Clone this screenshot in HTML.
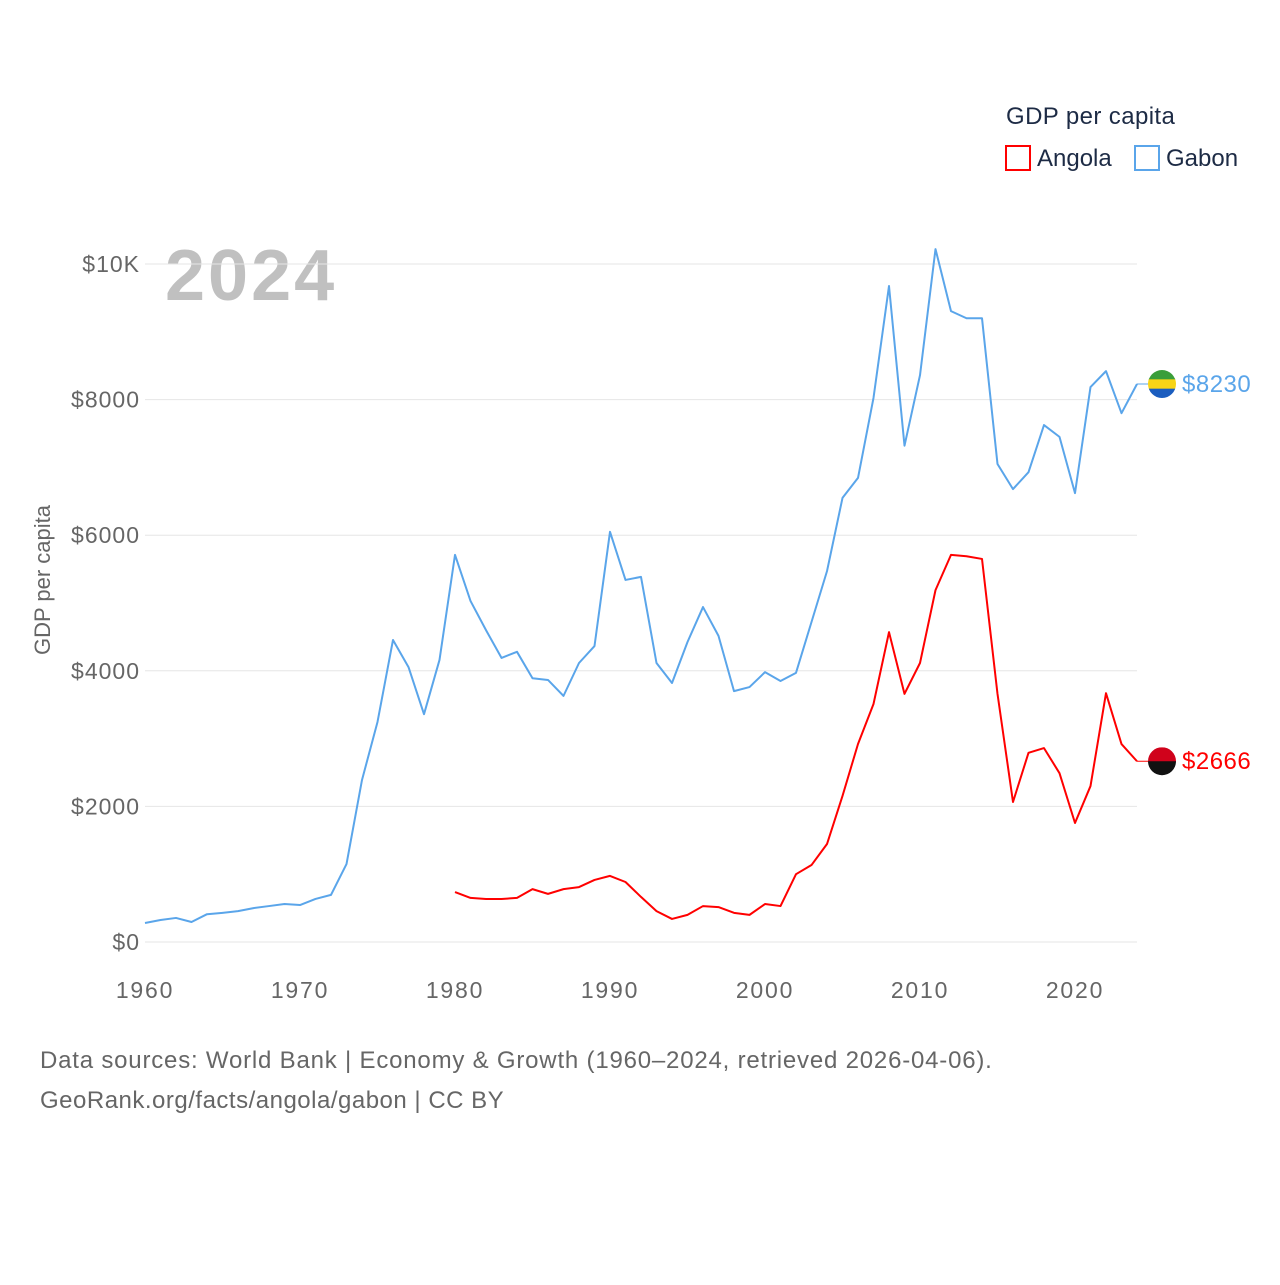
<!DOCTYPE html>
<html><head><meta charset="utf-8"><style>
body{margin:0;background:#fff}
svg text{font-family:"Liberation Sans",sans-serif}
</style></head><body>
<svg id="c" width="1280" height="1280" viewBox="0 0 1280 1280" xmlns="http://www.w3.org/2000/svg">
<text x="1006" y="124" font-size="24" fill="#1d2b45" letter-spacing="0.4">GDP per capita</text>
<rect x="1006" y="146" width="24" height="24" fill="none" stroke="#ff0000" stroke-width="2"/>
<text x="1037" y="166" font-size="24" fill="#1d2b45">Angola</text>
<rect x="1135" y="146" width="24" height="24" fill="none" stroke="#5aa5ea" stroke-width="2"/>
<text x="1166" y="166" font-size="24" fill="#1d2b45">Gabon</text>
<text x="165" y="300" font-size="72" font-weight="bold" fill="#c0c0c0" letter-spacing="3">2024</text>
<text transform="translate(50,580) rotate(-90)" text-anchor="middle" font-size="22" fill="#666">GDP per capita</text>
<g id="grid"></g><g id="series"></g><g id="ends"></g>
<text x="40" y="1068" font-size="24" fill="#666" letter-spacing="0.8">Data sources: World Bank | Economy &amp; Growth (1960–2024, retrieved 2026-04-06).</text>
<text x="40" y="1108" font-size="24" fill="#666" letter-spacing="0.5">GeoRank.org/facts/angola/gabon | CC BY</text>
</svg>
<script>
const gabonYears=[1960,1961,1962,1963,1964,1965,1966,1967,1968,1969,1970,1971,1972,1973,1974,1975,1976,1977,1978,1979,1980,1981,1982,1983,1984,1985,1986,1987,1988,1989,1990,1991,1992,1993,1994,1995,1996,1997,1998,1999,2000,2001,2002,2003,2004,2005,2006,2007,2008,2009,2010,2011,2012,2013,2014,2015,2016,2017,2018,2019,2020,2021,2022,2023,2024];
const gabonValues=[280,325,355,295,410,430,455,500,530,560,545,635,695,1150,2390,3245,4455,4055,3360,4160,5710,5030,4600,4190,4280,3890,3865,3630,4115,4365,6050,5340,5385,4115,3820,4425,4940,4515,3700,3760,3980,3850,3970,4720,5470,6550,6845,8025,9675,7320,8360,10220,9305,9200,9200,7050,6680,6930,7625,7450,6620,8185,8420,7800,8230];
const angolaYears=[1980,1981,1982,1983,1984,1985,1986,1987,1988,1989,1990,1991,1992,1993,1994,1995,1996,1997,1998,1999,2000,2001,2002,2003,2004,2005,2006,2007,2008,2009,2010,2011,2012,2013,2014,2015,2016,2017,2018,2019,2020,2021,2022,2023,2024];
const angolaValues=[737,650,635,635,650,780,710,780,810,915,975,885,665,455,340,400,530,515,430,400,560,530,1000,1135,1445,2155,2920,3510,4570,3660,4115,5190,5710,5690,5650,3660,2065,2790,2860,2490,1755,2300,3670,2920,2666];
const yTicks=[0,2000,4000,6000,8000,10000];
const yTickLabels=["$0","$2000","$4000","$6000","$8000","$10K"];
const xTicks=[1960,1970,1980,1990,2000,2010,2020];
const NS="http://www.w3.org/2000/svg";
const x=yr=>145+(yr-1960)*15.5;
const y=v=>942-v*0.0678;
function mk(tag,attrs,parent){const e=document.createElementNS(NS,tag);for(const k in attrs)e.setAttribute(k,attrs[k]);parent.appendChild(e);return e;}
const grid=document.getElementById('grid');
yTicks.forEach((t,i)=>{
 const l=mk('line',{x1:145,x2:1137,y1:y(t),y2:y(t),stroke:'#e6e6e6','stroke-width':1},grid);
 
 
 const tx=mk('text',{x:140,y:y(t)+8,'text-anchor':'end','font-size':23,fill:'#666','letter-spacing':1},grid);
 tx.textContent=yTickLabels[i];
 
 
});
xTicks.forEach(t=>{
 const tx=mk('text',{x:x(t),y:998,'text-anchor':'middle','font-size':23,fill:'#666','letter-spacing':1.8},grid);
 tx.textContent=t;
 
 
});
const sg=document.getElementById('series');
function line(years,vals,color,name){
 const p=mk('path',{d:years.map((yr,i)=>(i?'L':'M')+x(yr)+','+y(vals[i])).join(''),fill:'none',stroke:color,'stroke-width':2,'stroke-linejoin':'round'},sg);
 
 
}
line(gabonYears,gabonValues,'#5aa5ea','gabon-line');
line(angolaYears,angolaValues,'#ff0000','angola-line');
const ends=document.getElementById('ends');
function endLabel(val,color,name,flag){
 const yy=y(val);
 mk('line',{x1:1137,x2:1148,y1:yy,y2:yy,stroke:color,'stroke-width':1},ends);
 const g=mk('g',{},ends);
 
 
 const cp=mk('clipPath',{id:'cp'+name},g);mk('circle',{cx:1162,cy:yy,r:14},cp);
 const gg=mk('g',{'clip-path':'url(#cp'+name+')'},g);
 flag.forEach((c,i)=>mk('rect',{x:1148,y:yy-14+i*28/flag.length,width:28,height:28/flag.length+0.5,fill:c},gg));
 const t=mk('text',{x:1182,y:yy+8,'font-size':24,fill:color,'letter-spacing':0.5},ends);
 t.textContent='$'+val;
 
 
}
endLabel(gabonValues[gabonValues.length-1],'#5aa5ea','gabon',['#3a9e3a','#f7d417','#1b5dbf']);
endLabel(angolaValues[angolaValues.length-1],'#ff0000','angola',['#d0021b','#111']);
</script>
</body></html>
